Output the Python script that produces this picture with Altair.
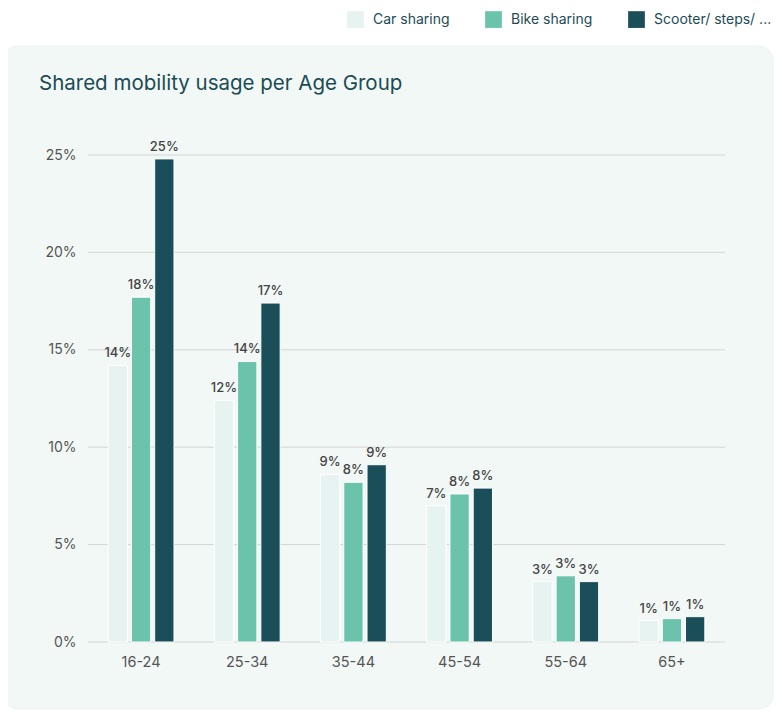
import altair as alt
import pandas as pd

ages = ["16-24", "25-34", "35-44", "45-54", "55-64", "65+"]
series = ["Car sharing", "Bike sharing", "Scooter/ steps/ mopeds"]
car = [14.2, 12.4, 8.6, 7.0, 3.1, 1.1]
bike = [17.7, 14.4, 8.2, 7.6, 3.4, 1.2]
scooter = [24.8, 17.4, 9.1, 7.9, 3.1, 1.3]
colors = ["#e6f3f0", "#6bc3ab", "#1a4f5a"]
y_ticks = [0, 5, 10, 15, 20, 25]
title_text = "Shared mobility usage per Age Group"

rows = []
for s, vals in zip(series, [car, bike, scooter]):
    for a, v in zip(ages, vals):
        rows.append({"age": a, "series": s, "value": v, "label": f"{round(v)}%"})
df = pd.DataFrame(rows)

FONT = "Inter"
TEAL = "#1b4b55"

x_enc = alt.X("age:N", sort=ages, title=None,
              scale=alt.Scale(paddingInner=0.38, paddingOuter=0.19),
              axis=alt.Axis(labelFontSize=14.5, labelColor="#555", labelFont=FONT,
                            labelPadding=13, ticks=False, domain=False, labelAngle=0,
                            zindex=1))
y_scale = alt.Scale(domain=[0, 25])
xoff = alt.XOffset("series:N", sort=series, scale=alt.Scale(paddingInner=0.17))

panel = alt.Chart(alt.Data(values=[{}])).mark_rect(
    fill="#f2f8f6", cornerRadius=14, stroke="#eef3f1", strokeWidth=1
).encode(x=alt.value(-84), x2=alt.value(685), y=alt.value(-109), y2=alt.value(554))

title = alt.Chart(alt.Data(values=[{}])).mark_text(
    align="left", baseline="alphabetic", fontSize=20.5, font=FONT, color=TEAL
).encode(x=alt.value(-49), y=alt.value(-65), text=alt.value(title_text))

grid = alt.Chart(pd.DataFrame({"t": y_ticks})).mark_rule(color="#d3d6d5", strokeWidth=1).encode(
    y=alt.Y("t:Q", scale=y_scale, title=None,
            axis=alt.Axis(values=y_ticks, labelExpr="datum.value + '%'", labelFontSize=14,
                          labelColor="#555", labelFont=FONT, labelPadding=12,
                          ticks=False, domain=False, grid=False, zindex=1))
)

bars = alt.Chart(df).mark_bar(stroke="white", strokeWidth=1).encode(
    x=x_enc,
    xOffset=xoff,
    y=alt.Y("value:Q", scale=y_scale),
    color=alt.Color("series:N", sort=series,
                    scale=alt.Scale(domain=series, range=colors),
                    legend=alt.Legend(title=None, orient="none", direction="horizontal",
                                      legendX=259, legendY=-144, symbolType="square",
                                      symbolSize=280, symbolStrokeWidth=0,
                                      labelFontSize=14, labelColor=TEAL, labelFont=FONT,
                                      labelOffset=9, columnPadding=35, labelLimit=220,
                                      labelExpr="datum.label == 'Scooter/ steps/ mopeds' ? 'Scooter/ steps/ ...' : datum.label")),
)

labels = alt.Chart(df).mark_text(dy=-8, fontSize=13, fontWeight=500, color="#444", font=FONT,
                                 baseline="alphabetic").encode(
    x=alt.X("age:N", sort=ages),
    xOffset=xoff,
    y=alt.Y("value:Q", scale=y_scale),
    text="label:N",
)

chart = alt.layer(panel, title, grid, bars, labels).properties(
    width=637, height=487,
    autosize=alt.AutoSizeParams(type="none"),
    padding={"left": 80, "top": 147, "right": 49, "bottom": 68},
    background="white",
).configure_view(stroke=None)

chart.save("out.html", embed_options={"renderer": "svg", "actions": False})
